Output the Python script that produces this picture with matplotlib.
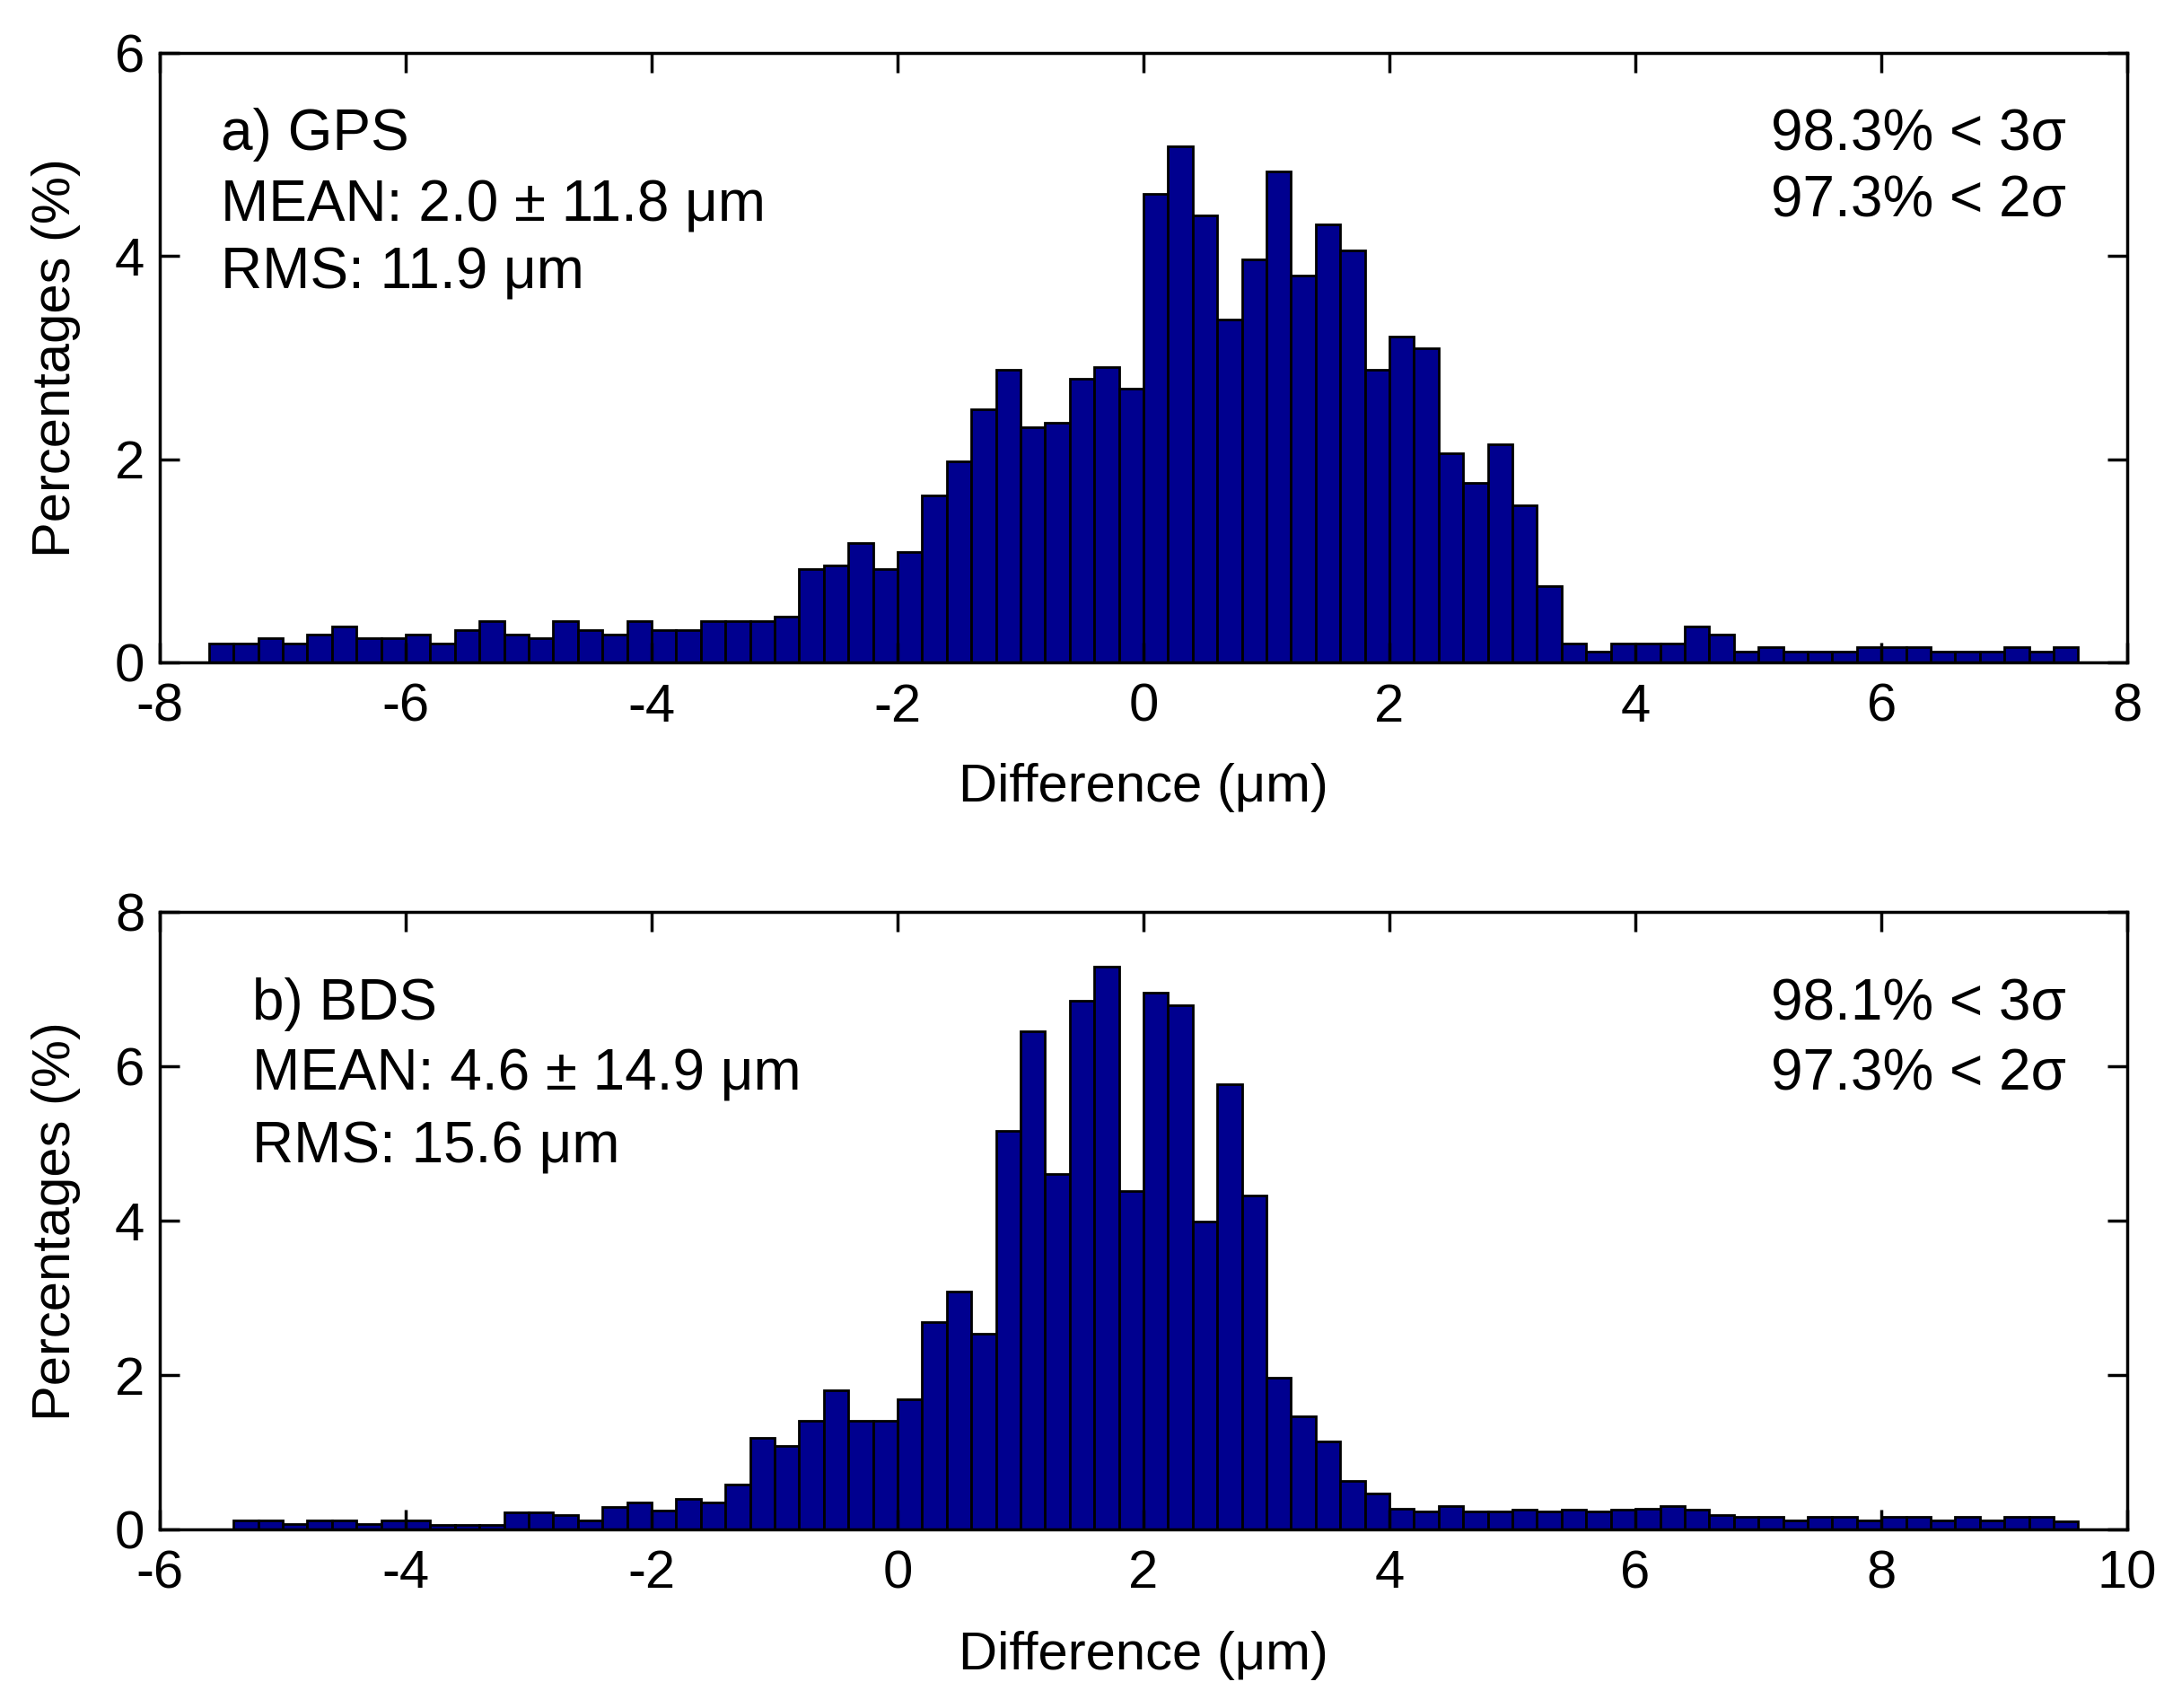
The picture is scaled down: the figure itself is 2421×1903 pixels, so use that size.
import numpy as np
import matplotlib.pyplot as plt

plt.rcParams['font.family'] = ['Liberation Sans', 'DejaVu Sans']
plt.rcParams['axes.unicode_minus'] = False

# GPS histogram: bin centres -7.5 ... 7.5 (step 0.2)
gps_centers = np.round(np.arange(-7.5, 7.51, 0.2), 1)
gps_pct = [0.19, 0.19, 0.24, 0.19, 0.28, 0.36, 0.24, 0.24, 0.28, 0.19,
           0.32, 0.41, 0.28, 0.24, 0.41, 0.32, 0.28, 0.41, 0.32, 0.32,
           0.41, 0.41, 0.41, 0.45, 0.92, 0.96, 1.18, 0.92, 1.09, 1.65,
           1.98, 2.49, 2.88, 2.32, 2.36, 2.79, 2.91, 2.70, 4.61, 5.08,
           4.40, 3.38, 3.97, 4.83, 3.81, 4.31, 4.06, 2.88, 3.21, 3.09,
           2.06, 1.77, 2.15, 1.55, 0.75, 0.19, 0.11, 0.19, 0.19, 0.19,
           0.36, 0.28, 0.11, 0.15, 0.11, 0.11, 0.11, 0.15, 0.15, 0.15,
           0.11, 0.11, 0.11, 0.15, 0.11, 0.15]

# BDS histogram: bin centres -5.3 ... 9.5 (step 0.2)
bds_centers = np.round(np.arange(-5.3, 9.51, 0.2), 1)
bds_pct = [0.12, 0.12, 0.07, 0.12, 0.12, 0.07, 0.12, 0.12, 0.06, 0.06,
           0.06, 0.22, 0.22, 0.18, 0.12, 0.29, 0.35, 0.24, 0.40, 0.35,
           0.58, 1.19, 1.08, 1.41, 1.80, 1.41, 1.41, 1.69, 2.69, 3.08,
           2.53, 5.16, 6.45, 4.60, 6.85, 7.29, 4.38, 6.96, 6.79, 3.99,
           5.77, 4.33, 1.97, 1.47, 1.14, 0.63, 0.47, 0.27, 0.23, 0.30,
           0.23, 0.23, 0.25, 0.23, 0.25, 0.23, 0.25, 0.27, 0.30, 0.25,
           0.19, 0.16, 0.16, 0.12, 0.16, 0.16, 0.12, 0.16, 0.16, 0.12,
           0.16, 0.12, 0.16, 0.16, 0.10]

panels = [
    dict(x=gps_centers, y=gps_pct, xlim=(-8, 8), ylim=(0, 6),
         xticks=np.arange(-8, 9, 2), yticks=np.arange(0, 7, 2),
         left=['a) GPS', 'MEAN: 2.0 ± 11.8 μm', 'RMS: 11.9 μm'],
         left_x=0.031, left_y=[0.866, 0.749, 0.638],
         right=['98.3% < 3σ', '97.3% < 2σ'], right_y=[0.866, 0.756],
         rect=[0.0735, 0.612, 0.9055, 0.357]),
    dict(x=bds_centers, y=bds_pct, xlim=(-6, 10), ylim=(0, 8),
         xticks=np.arange(-6, 11, 2), yticks=np.arange(0, 9, 2),
         left=['b) BDS', 'MEAN: 4.6 ± 14.9 μm', 'RMS: 15.6 μm'],
         left_x=0.047, left_y=[0.850, 0.737, 0.618],
         right=['98.1% < 3σ', '97.3% < 2σ'], right_y=[0.850, 0.737],
         rect=[0.0735, 0.1046, 0.9055, 0.3614]),
]

fig = plt.figure(figsize=(24.21, 19.03), dpi=100)

for p in panels:
    ax = fig.add_axes(p['rect'])
    ax.bar(p['x'], p['y'], width=0.2, color='#00008F', edgecolor='black',
           linewidth=2, align='center')
    ax.set_xlim(*p['xlim'])
    ax.set_ylim(*p['ylim'])
    ax.set_xticks(p['xticks'])
    ax.set_yticks(p['yticks'])
    ax.tick_params(direction='in', length=16, width=2.5, top=True, right=True,
                   labelsize=43)
    ax.tick_params(axis='x', pad=16)
    ax.tick_params(axis='y', pad=12)
    for s in ax.spines.values():
        s.set_linewidth(2.5)
    ax.set_xlabel('Difference (μm)', fontsize=43)
    ax.set_ylabel('Percentages (%)', fontsize=43)
    ax.xaxis.set_label_coords(0.5, -0.165)
    ax.yaxis.set_label_coords(-0.040, 0.5)
    for txt, yy in zip(p['left'], p['left_y']):
        ax.text(p['left_x'], yy, txt, transform=ax.transAxes, fontsize=46,
                ha='left', va='center')
    for txt, yy in zip(p['right'], p['right_y']):
        ax.text(0.969, yy, txt, transform=ax.transAxes, fontsize=46,
                ha='right', va='center')

fig.savefig('out.png', dpi=100)
